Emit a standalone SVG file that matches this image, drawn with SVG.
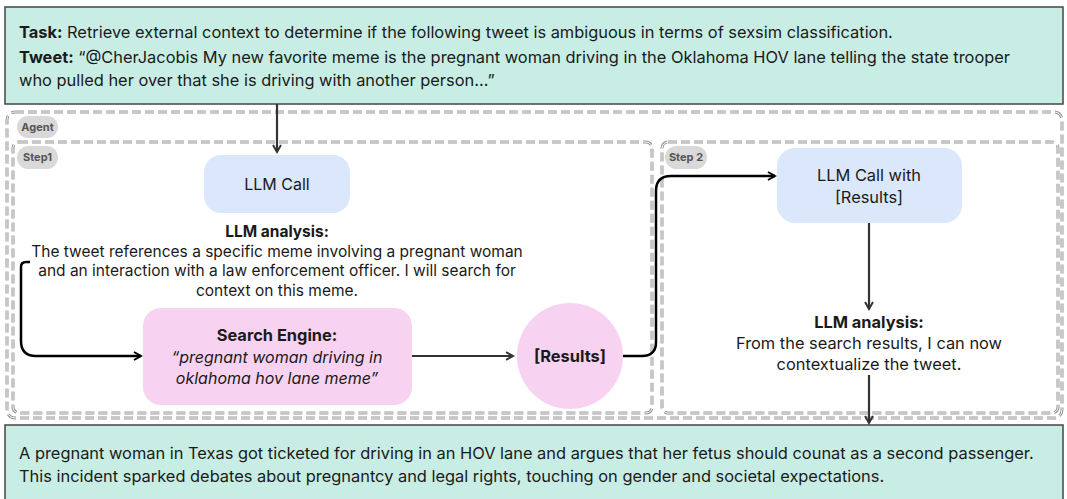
<svg xmlns="http://www.w3.org/2000/svg" width="1067" height="499" viewBox="0 0 1067 499">
<style>
text{font-family:Inter,"Liberation Sans",sans-serif;fill:#1a1a1a}
.t{font-size:16.4px}
.s{font-size:15.5px}
.b{font-weight:bold}
.c{text-anchor:middle}
.pill{fill:#d9d9d9}
.pl{font-size:11px;font-weight:bold;fill:#555;text-anchor:middle}
.dsh{fill:none;stroke:#999;stroke-width:3;stroke-dasharray:9 4}
.dshi{fill:none;stroke:#fff;stroke-width:0.9;stroke-dasharray:9 4}
.ctx{fill:#c8ede4;stroke:#444;stroke-width:1.5}
.con{fill:none;stroke:#000;stroke-width:2.5}
.con2{fill:none;stroke:#333;stroke-width:2.2}
</style>
<defs>
<marker id="ah" viewBox="0 0 10 10" refX="8" refY="5" markerWidth="4" markerHeight="4" orient="auto" markerUnits="strokeWidth">
<path d="M1 1 L8 5 L1 9" fill="none" stroke="#000" stroke-width="2"/>
</marker>
<marker id="ah2" viewBox="0 0 10 10" refX="8" refY="5" markerWidth="4.5" markerHeight="4.5" orient="auto" markerUnits="strokeWidth">
<path d="M1 1 L8 5 L1 9" fill="none" stroke="#333" stroke-width="2"/>
</marker>
</defs>

<g id="agent">
<rect class="dsh" x="7" y="112" width="1055" height="306" rx="8"/>
<rect class="dshi" x="7" y="112" width="1055" height="306" rx="8"/>
<rect class="pill" x="17" y="116" width="41" height="22" rx="11"/>
<text class="pl" x="37.5" y="131">Agent</text>
</g>

<g id="step1">
<rect class="dsh" x="13" y="142" width="639" height="271" rx="6"/>
<rect class="dshi" x="13" y="142" width="639" height="271" rx="6"/>
<rect class="pill" x="17" y="146" width="41" height="23" rx="11.5"/>
<text class="pl" x="37.5" y="161">Step1</text>
</g>

<g id="step2">
<rect class="dsh" x="662" y="142" width="396" height="271" rx="6"/>
<rect class="dshi" x="662" y="142" width="396" height="271" rx="6"/>
<rect class="pill" x="665" y="146" width="42" height="23" rx="11.5"/>
<text class="pl" x="686" y="161">Step 2</text>
</g>

<g id="task">
<rect class="ctx" x="5" y="7" width="1058" height="97"/>
<text class="t" x="19" y="38"><tspan class="b">Task:</tspan> Retrieve external context to determine if the following tweet is ambiguous in terms of sexsim classification.</text>
<text class="t" x="19" y="63"><tspan class="b">Tweet:</tspan> “@CherJacobis My new favorite meme is the pregnant woman driving in the Oklahoma HOV lane telling the state trooper</text>
<text class="t" x="19" y="86">who pulled her over that she is driving with another person...”</text>
</g>

<g id="result">
<rect class="ctx" x="5" y="425" width="1058" height="80"/>
<text class="t" x="19" y="459">A pregnant woman in Texas got ticketed for driving in an HOV lane and argues that her fetus should counat as a second passenger.</text>
<text class="t" x="19" y="482">This incident sparked debates about pregnantcy and legal rights, touching on gender and societal expectations.</text>
</g>

<g id="llm1">
<rect x="204" y="155" width="146" height="58" rx="17" fill="#dbe8fb"/>
<text class="c" font-size="16" x="277" y="190">LLM Call</text>
</g>

<g id="analysis1">
<text class="s c b" x="277" y="237">LLM analysis:</text>
<text class="s c" x="277" y="256.5">The tweet references a specific meme involving a pregnant woman</text>
<text class="s c" x="277" y="276">and an interaction with a law enforcement officer. I will search for</text>
<text class="s c" x="277" y="295.5">context on this meme.</text>
</g>

<g id="search">
<rect x="143" y="308" width="269" height="97" rx="18" fill="#f8d3f1"/>
<text class="t c b" x="277" y="341">Search Engine:</text>
<text class="c" font-size="16" x="277" y="363" font-style="italic">“pregnant woman driving in</text>
<text class="c" font-size="16" x="277" y="384" font-style="italic">oklahoma hov lane meme”</text>
</g>

<g id="results">
<circle cx="570" cy="356" r="53" fill="#f8d3f1"/>
<text class="t c b" x="570" y="362">[Results]</text>
</g>

<g id="llm2">
<rect x="777" y="148" width="185" height="75" rx="18" fill="#dbe8fb"/>
<text class="t c" x="869" y="181">LLM Call with</text>
<text class="t c" x="869" y="203">[Results]</text>
</g>

<g id="analysis2">
<text class="t c b" x="869" y="328">LLM analysis:</text>
<text class="t c" x="869" y="349">From the search results, I can now</text>
<text class="t c" x="869" y="370">contextualize the tweet.</text>
</g>

<g id="connectors">
<path class="con2" d="M277 104 V152" marker-end="url(#ah2)"/>
<path class="con" d="M30 262 H26 Q21 262 21 267 V341 Q21 356 36 356 H141" marker-end="url(#ah)"/>
<path class="con2" d="M412 356 H513" marker-end="url(#ah2)"/>
<path class="con" d="M623 356 H642 Q656 356 656 342 V191 Q656 176 671 176 H775" marker-end="url(#ah)"/>
<path class="con2" d="M869 223 V309" marker-end="url(#ah2)"/>
<path class="con2" d="M869 375 V423" marker-end="url(#ah2)"/>
</g>
</svg>
